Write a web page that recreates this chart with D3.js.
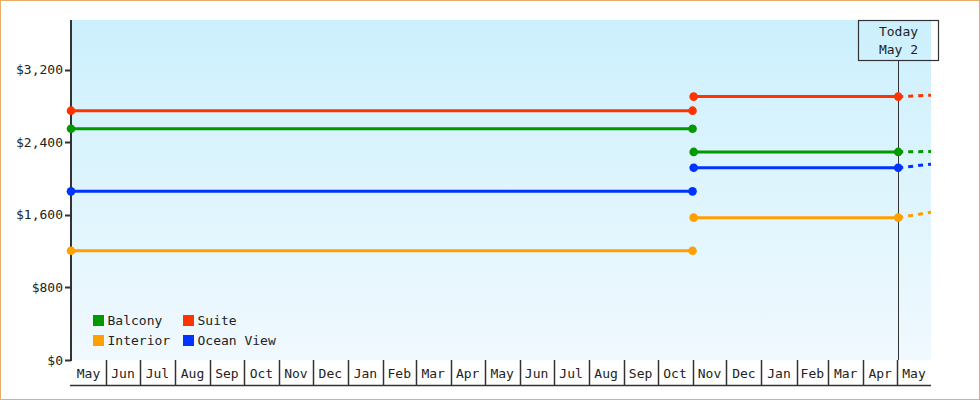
<!DOCTYPE html>
<html>
<head>
<meta charset="utf-8">
<script src="https://cdn.jsdelivr.net/npm/d3@7"></script>
<style>
  html, body { margin: 0; padding: 0; background: #fff; }
  svg { display: block; font-family: "DejaVu Sans Mono", "Liberation Mono", monospace; font-size: 13px; }
  text { fill: #222; }
</style>
</head>
<body>
<svg id="chart" width="980" height="400"></svg>
<script>
/* ─── Data ───────────────────────────────────────────────────────────────── */

const SERIES = ['Balcony', 'Interior', 'Suite', 'Ocean View'];
const COLORS = ['#009900', '#ffa000', '#ff3300', '#0033ff'];

// price held over two periods, then a projection past today
const PERIOD_1 = ['2023-05-01', '2024-11-01'];
const PERIOD_2 = ['2024-11-02', '2025-05-02'];
const PRICES_1 = [2550, 1205, 2750, 1860];
const PRICES_2 = [2295, 1570, 2905, 2120];
const FORECAST_DATE = '2025-05-31';
const FORECAST_PRICES = [2300, 1630, 2920, 2160];

const TODAY = '2025-05-02';
const TODAY_LABEL = ['Today', 'May 2'];
const DOMAIN = ['2023-05-01', '2025-05-31'];
const Y_MAX = 3750;
const Y_TICKS = [0, 800, 1600, 2400, 3200];

/* ─── Layout ─────────────────────────────────────────────────────────────── */

const W = 980, H = 400;
const plot = { left: 71, right: 931, top: 20, bottom: 360 };
const parse = d3.utcParse('%Y-%m-%d');

const svg = d3.select('#chart');

const x = d3.scaleUtc().domain(DOMAIN.map(parse)).range([plot.left, plot.right]);
const y = d3.scaleLinear().domain([0, Y_MAX]).range([plot.bottom, plot.top]);

// outer frame
svg.append('rect')
  .attr('x', 0.5).attr('y', 0.5).attr('width', W - 1).attr('height', H - 1)
  .attr('fill', '#fff').attr('stroke', '#e8ad68');

// plot background gradient
const defs = svg.append('defs');
const grad = defs.append('linearGradient').attr('id', 'bg').attr('x1', 0).attr('y1', 0).attr('x2', 0).attr('y2', 1);
grad.append('stop').attr('offset', '0%').attr('stop-color', '#ccf0fd');
grad.append('stop').attr('offset', '100%').attr('stop-color', '#f0f9fe');

defs.append('clipPath').attr('id', 'clip')
  .append('rect')
  .attr('x', plot.left).attr('y', plot.top)
  .attr('width', plot.right - plot.left).attr('height', plot.bottom - plot.top);

svg.append('rect')
  .attr('x', plot.left).attr('y', plot.top)
  .attr('width', plot.right - plot.left).attr('height', plot.bottom - plot.top)
  .attr('fill', 'url(#bg)');

/* ─── Axes ───────────────────────────────────────────────────────────────── */

const yAxis = svg.append('g');
yAxis.selectAll('line.tick')
  .data(Y_TICKS)
  .join('line')
  .attr('class', 'tick')
  .attr('x1', plot.left - 6).attr('x2', plot.left)
  .attr('y1', d => Math.round(y(d)) + 0.5).attr('y2', d => Math.round(y(d)) + 0.5)
  .attr('stroke', '#333').attr('stroke-width', 2);
yAxis.selectAll('text')
  .data(Y_TICKS)
  .join('text')
  .attr('x', plot.left - 8)
  .attr('y', d => y(d) + 4.5)
  .attr('text-anchor', 'end')
  .text(d => '$' + d3.format(',')(d));
yAxis.append('line')
  .attr('x1', plot.left).attr('x2', plot.left)
  .attr('y1', plot.top).attr('y2', plot.bottom + 1)
  .attr('stroke', '#333').attr('stroke-width', 2);

// month cells under the plot
const months = d3.utcMonth.range(x.domain()[0], x.domain()[1]);
const xAxis = svg.append('g');
xAxis.append('line')
  .attr('x1', plot.left - 1).attr('x2', plot.right)
  .attr('y1', plot.bottom + 25.5).attr('y2', plot.bottom + 25.5)
  .attr('stroke', '#333').attr('stroke-width', 1.5);
xAxis.selectAll('line.sep')
  .data(months.slice(1))
  .join('line')
  .attr('class', 'sep')
  .attr('x1', d => Math.round(x(d)) + 0.5).attr('x2', d => Math.round(x(d)) + 0.5)
  .attr('y1', plot.bottom).attr('y2', plot.bottom + 25)
  .attr('stroke', '#333').attr('stroke-width', 1.5);
xAxis.selectAll('text')
  .data(months)
  .join('text')
  .attr('x', d => (x(d) + Math.min(x(d3.utcMonth.offset(d, 1)), plot.right)) / 2)
  .attr('y', plot.bottom + 18)
  .attr('text-anchor', 'middle')
  .text(d => d3.utcFormat('%b')(d));

/* ─── Today marker ───────────────────────────────────────────────────────── */

const tx = Math.round(x(parse(TODAY))) + 0.5;
svg.append('line')
  .attr('x1', tx).attr('x2', tx)
  .attr('y1', plot.top + 40).attr('y2', plot.bottom)
  .attr('stroke', '#333').attr('stroke-width', 1);
svg.append('rect')
  .attr('x', tx - 40).attr('y', plot.top + 0.5)
  .attr('width', 80).attr('height', 40)
  .attr('fill', 'none').attr('stroke', '#333').attr('stroke-width', 1.2);
svg.selectAll('text.today')
  .data(TODAY_LABEL)
  .join('text')
  .attr('class', 'today')
  .attr('x', tx)
  .attr('y', (d, i) => plot.top + 16 + i * 18)
  .attr('text-anchor', 'middle')
  .text(d => d);

/* ─── Price lines ────────────────────────────────────────────────────────── */

const lines = svg.append('g').attr('clip-path', 'url(#clip)');
const line = d3.line().x(d => x(d[0])).y(d => y(d[1]));

SERIES.forEach((name, i) => {
  const seg1 = PERIOD_1.map(d => [parse(d), PRICES_1[i]]);
  const seg2 = PERIOD_2.map(d => [parse(d), PRICES_2[i]]);
  const proj = [[parse(PERIOD_2[1]), PRICES_2[i]], [parse(FORECAST_DATE), FORECAST_PRICES[i]]];

  [seg1, seg2].forEach(seg => {
    lines.append('path')
      .attr('d', line(seg))
      .attr('fill', 'none').attr('stroke', COLORS[i]).attr('stroke-width', 3);
  });
  lines.append('path')
    .attr('d', line(proj))
    .attr('fill', 'none').attr('stroke', COLORS[i]).attr('stroke-width', 3)
    .attr('stroke-dasharray', '5,5');

  svg.append('g').selectAll('circle')
    .data(seg1.concat(seg2))
    .join('circle')
    .attr('cx', d => x(d[0])).attr('cy', d => y(d[1]))
    .attr('r', 4.3)
    .attr('fill', COLORS[i]);
});

/* ─── Legend ─────────────────────────────────────────────────────────────── */

const legend = svg.append('g');
SERIES.forEach((name, i) => {
  const col = Math.floor(i / 2), row = i % 2;
  const lx = 93 + col * 90, ly = 315 + row * 20;
  legend.append('rect')
    .attr('x', lx).attr('y', ly).attr('width', 11).attr('height', 11)
    .attr('fill', COLORS[i]);
  legend.append('text')
    .attr('x', lx + 14.5).attr('y', ly + 10)
    .text(name);
});
</script>
</body>
</html>
